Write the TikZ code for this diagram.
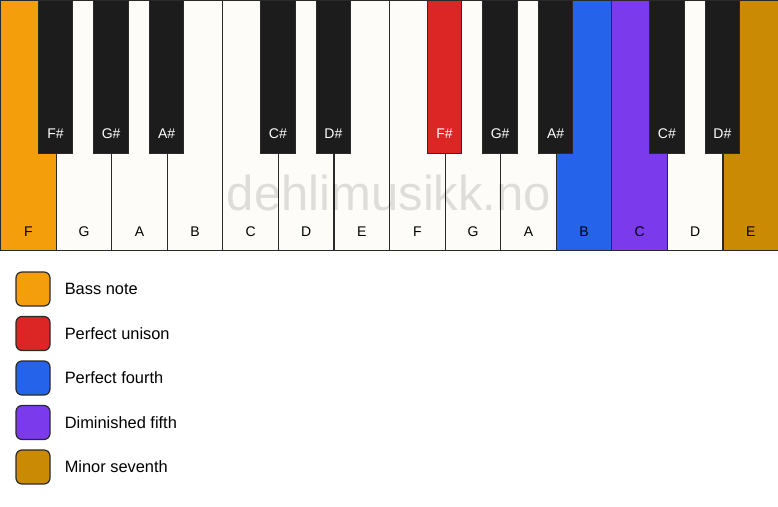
\documentclass[tikz,border=0pt]{standalone}
\usepackage{fontspec}
\setmainfont{Liberation Sans}
\usetikzlibrary{positioning}
\definecolor{ivory}{HTML}{FDFCF8}
\definecolor{ebony}{HTML}{1C1C1C}
\definecolor{keyline}{HTML}{2A2A2A}
\definecolor{bassnote}{HTML}{F59E0B}
\definecolor{unison}{HTML}{DC2626}
\definecolor{fourth}{HTML}{2563EB}
\definecolor{dimfifth}{HTML}{7C3AED}
\definecolor{minseventh}{HTML}{CA8A04}
\tikzset{
  whitekey/.style={draw=keyline,line width=1.2pt,minimum width=55.57pt,minimum height=250pt,anchor=north west,inner sep=0pt},
  blackkey/.style={draw=keyline,line width=1pt,minimum width=34.5pt,minimum height=153pt,anchor=north,inner sep=0pt},
  keylabel/.style={font=\fontsize{14}{16}\selectfont,inner sep=0pt},
  legendbox/.style={draw=keyline,line width=1.2pt,rounded corners=6pt,minimum size=34pt,inner sep=0pt},
  legendtext/.style={font=\fontsize{16.4}{18}\selectfont,inner sep=0pt,anchor=west}
}
\begin{document}
\begin{tikzpicture}[x=1pt,y=1pt]
  \useasboundingbox[fill=white] (0,0) rectangle (778,-506);
  % white keys
  \foreach \i/\name/\col in {1/F/bassnote,2/G/ivory,3/A/ivory,4/B/ivory,5/C/ivory,6/D/ivory,7/E/ivory,
      8/F/ivory,9/G/ivory,10/A/ivory,11/B/fourth,12/C/dimfifth,13/D/ivory,14/E/minseventh}{
    \node[whitekey,fill=\col] (w\i) at ({(\i-1)*778/14},0) {};
    \node[keylabel] (lw\i) at ([yshift=20pt]w\i.south) {\name};
  }
  % watermark
  \node[font=\fontsize{49}{54}\selectfont,text=black,opacity=0.12] (wmark) at (389,-193) {dehlimusikk.no};
  % black keys
  \foreach \i/\name/\col in {1/F\#/ebony,2/G\#/ebony,3/A\#/ebony,5/C\#/ebony,6/D\#/ebony,
      8/F\#/unison,9/G\#/ebony,10/A\#/ebony,12/C\#/ebony,13/D\#/ebony}{
    \node[blackkey,fill=\col] (b\i) at ({\i*778/14},0) {};
    \node[keylabel,text=white] (lb\i) at ([yshift=20pt]b\i.south) {\name};
  }
  % legend
  \foreach \j/\col/\txt in {0/bassnote/Bass note,1/unison/Perfect unison,2/fourth/Perfect fourth,
      3/dimfifth/Diminished fifth,4/minseventh/Minor seventh}{
    \node[legendbox,fill=\col] (box\j) at (33,{-289-\j*44.5}) {};
    \node[legendtext,right=14pt of box\j] (txt\j) {\txt};
  }
\end{tikzpicture}
\end{document}
